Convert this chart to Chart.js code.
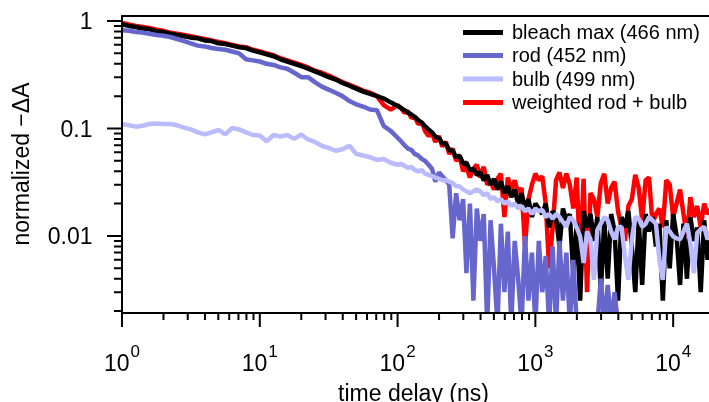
<!DOCTYPE html>
<html>
<head>
<meta charset="utf-8">
<script src="https://cdn.jsdelivr.net/npm/chart.js@4"></script>
<style>
  html, body { margin: 0; padding: 0; background: #fff; }
  canvas { display: block; }
</style>
</head>
<body>
<canvas id="decayChart" width="709" height="402"></canvas>
<script>
// time delays (ns)
const times = [1, 1.12, 1.26, 1.41, 1.58, 1.78, 2, 2.24, 2.51, 2.82,
  3.16, 3.55, 3.98, 4.47, 5.01, 5.62, 6.31, 7.08, 7.94, 8.91,
  10, 11.2, 12.6, 14.1, 15.8, 17.8, 20, 22.4, 25.1, 28.2,
  31.6, 35.5, 39.8, 44.7, 50.1, 56.2, 63.1, 70.8, 79.4, 89.1,
  100, 106, 112, 119, 126, 133, 141, 150, 158, 168,
  178, 188, 200, 211, 224, 237, 251, 266, 282, 299,
  316, 335, 355, 376, 398, 422, 447, 473, 501, 531,
  562, 596, 631, 668, 708, 750, 794, 841, 891, 944,
  1000, 1059, 1122, 1189, 1259, 1334, 1413, 1496, 1585, 1679,
  1778, 1884, 1995, 2113, 2239, 2371, 2512, 2661, 2818, 2985,
  3162, 3350, 3548, 3758, 3981, 4217, 4467, 4732, 5012, 5309,
  5623, 5957, 6310, 6683, 7079, 7499, 7943, 8414, 8913, 9441,
  10000, 10593, 11220, 11885, 12589, 13335, 14125, 14962, 15849, 16788,
  17783, 18836];

// bleach max (466 nm)
const bleach = [0.93, 0.90, 0.88, 0.85, 0.84, 0.80, 0.79, 0.76, 0.74, 0.72,
  0.70, 0.69, 0.66, 0.65, 0.62, 0.61, 0.59, 0.57, 0.56, 0.53,
  0.51, 0.49, 0.47, 0.44, 0.42, 0.40, 0.38, 0.36, 0.34, 0.32,
  0.30, 0.285, 0.265, 0.25, 0.235, 0.22, 0.21, 0.20, 0.19, 0.175,
  0.162, 0.155, 0.148, 0.14, 0.135, 0.128, 0.12, 0.113, 0.105, 0.098,
  0.092, 0.084, 0.081, 0.073, 0.072, 0.063, 0.062, 0.054, 0.056, 0.047,
  0.048, 0.041, 0.042, 0.037, 0.039, 0.033, 0.037, 0.030, 0.034, 0.027,
  0.032, 0.025, 0.029, 0.023, 0.027, 0.020, 0.025, 0.018, 0.022, 0.015,
  0.020, 0.018, 0.016, 0.020, 0.012, 0.017, 0.015, 0.008, 0.018, 0.014,
  0.016, 0.0045, 0.013, 0.0025, 0.017, 0.012, 0.016, 0.009, 0.015, 0.003,
  0.014, 0.004, 0.016, 0.011, 0.0025, 0.015, 0.012, 0.017, 0.008, 0.003,
  0.014, 0.0035, 0.016, 0.011, 0.015, 0.008, 0.013, 0.0025, 0.014, 0.005,
  0.016, 0.010, 0.0035, 0.013, 0.004, 0.015, 0.009, 0.012, 0.003, 0.014,
  0.006, 0.011];

// rod (452 nm)
const rod = [0.82, 0.81, 0.79, 0.78, 0.76, 0.74, 0.73, 0.71, 0.68, 0.65,
  0.62, 0.59, 0.58, 0.56, 0.55, 0.54, 0.52, 0.50, 0.44, 0.43,
  0.42, 0.40, 0.39, 0.37, 0.36, 0.33, 0.30, 0.30, 0.27, 0.245,
  0.23, 0.215, 0.20, 0.18, 0.168, 0.16, 0.15, 0.148, 0.105, 0.095,
  0.082, 0.076, 0.07, 0.065, 0.063, 0.058, 0.056, 0.052, 0.05, 0.046,
  0.042, 0.032, 0.039, 0.036, 0.033, 0.03, 0.0095, 0.025, 0.014, 0.022,
  0.0045, 0.02, 0.0025, 0.018, 0.009, 0.016, 0.0015, 0.014, 0.005, 0.0015,
  0.013, 0.003, 0.011, 0.0015, 0.009, 0.004, 0.0015, 0.010, 0.0025, 0.007,
  0.0015, 0.009, 0.003, 0.0065, 0.0015, 0.008, 0.0015, 0.009, 0.0025, 0.007,
  0.0015, 0.006, 0.0015, 0.0015, 0.0015, 0.0015, 0.0015, 0.0015, 0.0015, 0.004,
  0.0015, 0.0035, 0.0015, 0.003, 0.0015, 0.0015, 0.0015, 0.0015, 0.0015, 0.0015,
  0.0015, 0.0015, 0.0015, 0.0015, 0.0015, 0.0015, 0.0015, 0.0015, 0.0015, 0.0015,
  0.0015, 0.0015, 0.0015, 0.0015, 0.0015, 0.0015, 0.0015, 0.0015, 0.0015, 0.0015,
  0.0015, 0.0015];

// bulb (499 nm)
const bulb = [0.110, 0.107, 0.104, 0.106, 0.110, 0.111, 0.110, 0.110, 0.107, 0.102,
  0.098, 0.092, 0.088, 0.092, 0.097, 0.088, 0.101, 0.098, 0.092, 0.087,
  0.086, 0.076, 0.087, 0.084, 0.087, 0.080, 0.088, 0.079, 0.075, 0.069,
  0.066, 0.062, 0.064, 0.069, 0.058, 0.056, 0.054, 0.051, 0.052, 0.048,
  0.046, 0.047, 0.045, 0.043, 0.044, 0.041, 0.040, 0.041, 0.038, 0.037,
  0.036, 0.035, 0.034, 0.033, 0.033, 0.032, 0.031, 0.029, 0.029, 0.027,
  0.026, 0.025, 0.026, 0.027, 0.026, 0.024, 0.025, 0.022, 0.023, 0.021,
  0.022, 0.020, 0.021, 0.019, 0.020, 0.018, 0.019, 0.017, 0.018, 0.016,
  0.018, 0.017, 0.0175, 0.015, 0.016, 0.0145, 0.016, 0.015, 0.0135, 0.0122,
  0.015, 0.014, 0.012, 0.0099, 0.0056, 0.011, 0.0093, 0.0039, 0.0114, 0.013,
  0.015, 0.014, 0.011, 0.0093, 0.012, 0.0122, 0.0065, 0.0039, 0.0093, 0.015,
  0.0145, 0.0122, 0.013, 0.015, 0.014, 0.013, 0.006, 0.0039, 0.0122, 0.011,
  0.0099, 0.0095, 0.0093, 0.011, 0.013, 0.0085, 0.0045, 0.0107, 0.0115, 0.0122,
  0.0093, 0.011];

// weighted rod + bulb
const weighted = [0.96, 0.93, 0.90, 0.88, 0.86, 0.83, 0.81, 0.78, 0.76, 0.74,
  0.72, 0.70, 0.68, 0.66, 0.64, 0.62, 0.60, 0.58, 0.57, 0.54,
  0.52, 0.50, 0.48, 0.45, 0.43, 0.41, 0.39, 0.37, 0.345, 0.33,
  0.31, 0.29, 0.27, 0.255, 0.24, 0.225, 0.215, 0.20, 0.165, 0.15,
  0.165, 0.155, 0.14, 0.145, 0.125, 0.13, 0.11, 0.115, 0.095, 0.085,
  0.09, 0.075, 0.085, 0.068, 0.075, 0.058, 0.065, 0.05, 0.055, 0.04,
  0.044, 0.035, 0.042, 0.046, 0.035, 0.044, 0.03, 0.032, 0.027, 0.034,
  0.038, 0.015, 0.035, 0.027, 0.033, 0.025, 0.028, 0.008, 0.022, 0.03,
  0.038, 0.033, 0.036, 0.02, 0.005, 0.012, 0.033, 0.039, 0.028, 0.038,
  0.03, 0.018, 0.035, 0.006, 0.034, 0.003, 0.025, 0.022, 0.015, 0.031,
  0.038, 0.02, 0.028, 0.032, 0.017, 0.012, 0.009, 0.019, 0.022, 0.037,
  0.028, 0.014, 0.033, 0.035, 0.013, 0.016, 0.018, 0.012, 0.033, 0.03,
  0.015, 0.02, 0.027, 0.016, 0.01, 0.023, 0.015, 0.019, 0.012, 0.02,
  0.016, 0.018];

const seriesLabels = ['bleach max (466 nm)', 'rod (452 nm)', 'bulb (499 nm)', 'weighted rod + bulb'];
const seriesColors = ['#000000', '#6666cc', '#bbbbff', '#ff0000'];

// axis ticks
const xTickExponents = [0, 1, 2, 3, 4];
const yTickValues = [1, 0.1, 0.01];
const yTickLabels = ['1', '0.1', '0.01'];

const FONT = '"Liberation Sans", Arial, sans-serif';

function toPoints(values) {
  return times.map((t, i) => ({ x: t, y: values[i] }));
}

// draws frame, log ticks, labels, titles and the legend
const axesPlugin = {
  id: 'axesPlugin',
  afterDraw(chart) {
    const { ctx, chartArea: a, scales } = chart;
    const xs = scales.x, ys = scales.y;
    ctx.save();
    ctx.strokeStyle = '#000';
    ctx.lineWidth = 2;
    ctx.lineCap = 'butt';

    ctx.beginPath();
    ctx.moveTo(a.left - 1, a.top);
    ctx.lineTo(a.right, a.top);
    ctx.moveTo(a.left, a.top);
    ctx.lineTo(a.left, a.bottom);
    ctx.moveTo(a.left - 1, a.bottom);
    ctx.lineTo(a.right, a.bottom);

    // y ticks
    [0.001, 0.01, 0.1, 1].forEach(d => {
      for (let m = 1; m <= 9; m++) {
        const v = m * d;
        if (v < ys.min || v > ys.max) continue;
        const y = ys.getPixelForValue(v);
        const len = m === 1 ? 15 : 8;
        ctx.moveTo(a.left - len, y);
        ctx.lineTo(a.left, y);
      }
    });
    // x ticks
    [1, 10, 100, 1000, 10000].forEach(d => {
      for (let m = 1; m <= 9; m++) {
        const v = m * d;
        if (v < xs.min || v > xs.max) continue;
        const x = xs.getPixelForValue(v);
        const len = m === 1 ? 14 : 7;
        ctx.moveTo(x, a.bottom);
        ctx.lineTo(x, a.bottom + len);
      }
    });
    ctx.stroke();

    ctx.fillStyle = '#000';
    // y tick labels
    ctx.font = '23px ' + FONT;
    ctx.textAlign = 'right';
    ctx.textBaseline = 'alphabetic';
    yTickValues.forEach((v, i) => {
      ctx.fillText(yTickLabels[i], 92.5, ys.getPixelForValue(v) + 8.3);
    });

    // x tick labels 10^n
    ctx.textAlign = 'left';
    xTickExponents.forEach(n => {
      const x = xs.getPixelForValue(Math.pow(10, n));
      ctx.font = '23px ' + FONT;
      const wBase = ctx.measureText('10').width;
      ctx.font = '17px ' + FONT;
      const wExp = ctx.measureText(String(n)).width;
      const start = x - (wBase + 1 + wExp) / 2;
      ctx.font = '23px ' + FONT;
      ctx.fillText('10', start, 371);
      ctx.font = '17px ' + FONT;
      ctx.fillText(String(n), start + wBase + 1, 357);
    });

    // axis titles
    ctx.font = '23px ' + FONT;
    ctx.textAlign = 'center';
    ctx.fillText('time delay (ns)', 413.5, 400.5);
    ctx.save();
    ctx.translate(28.5, 164);
    ctx.rotate(-Math.PI / 2);
    ctx.fillText('normalized \u2212\u0394A', 0, 0);
    ctx.restore();

    // legend
    ctx.font = '20px ' + FONT;
    ctx.textAlign = 'left';
    ctx.textBaseline = 'middle';
    ctx.lineWidth = 5;
    const rows = [32.5, 55.5, 79, 102.5];
    seriesLabels.forEach((label, i) => {
      ctx.strokeStyle = seriesColors[i];
      ctx.beginPath();
      ctx.moveTo(463, rows[i]);
      ctx.lineTo(503, rows[i]);
      ctx.stroke();
      ctx.fillText(label, 512, rows[i] + 1);
    });
    ctx.restore();
  }
};

const lineStyle = {
  borderWidth: 4.5,
  pointRadius: 0,
  tension: 0,
  borderJoinStyle: 'bevel',
  clip: 0
};

const decayData = {
  datasets: [
    { label: seriesLabels[0], data: toPoints(bleach), borderColor: seriesColors[0], order: 2, ...lineStyle },
    { label: seriesLabels[1], data: toPoints(rod), borderColor: seriesColors[1], order: 1, ...lineStyle },
    { label: seriesLabels[2], data: toPoints(bulb), borderColor: seriesColors[2], order: 0, ...lineStyle },
    { label: seriesLabels[3], data: toPoints(weighted), borderColor: seriesColors[3], order: 3, ...lineStyle }
  ]
};

const decayConfig = {
  type: 'line',
  data: decayData,
  options: {
    responsive: false,
    animation: false,
    devicePixelRatio: 1,
    layout: { padding: { left: 122, top: 16, right: 0, bottom: 89 } },
    plugins: { legend: { display: false }, tooltip: { enabled: false } },
    scales: {
      x: { type: 'logarithmic', min: 1, max: 18200, display: false },
      y: { type: 'logarithmic', min: 0.00192, max: 1.113, display: false }
    }
  },
  plugins: [axesPlugin]
};

new Chart(document.getElementById('decayChart'), decayConfig);
</script>
</body>
</html>
